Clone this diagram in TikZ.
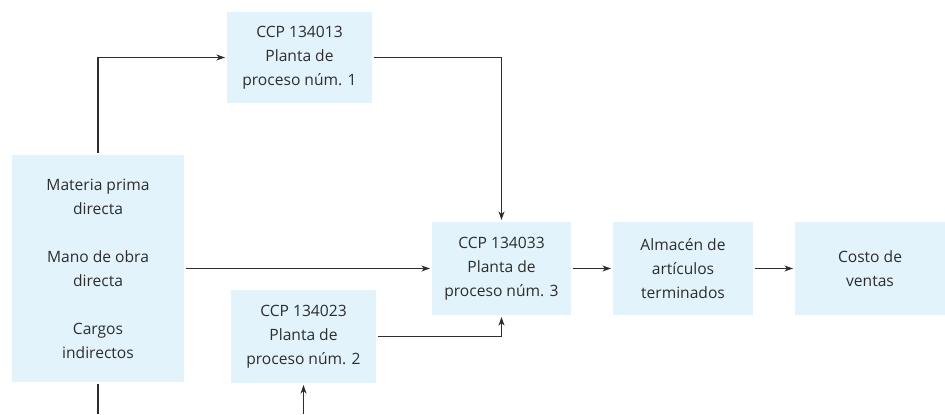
\documentclass[tikz,border=0pt]{standalone}
\usepackage{fontspec}
\setmainfont{Open Sans}
\usepackage{tikz}
\usepackage{xcolor}
\usetikzlibrary{positioning, arrows.meta}
\definecolor{boxblue}{RGB}{226,243,251}
\definecolor{inkgray}{RGB}{45,45,45}

\begin{document}
\begin{tikzpicture}[
    x=0.75pt, y=-0.75pt,
    procbox/.style={rectangle, fill=boxblue, text=inkgray, minimum width=108.75pt, minimum height=69.75pt, inner sep=0pt, outer sep=1.5pt, align=center, font=\fontsize{11.7}{18}\selectfont},
    arrow/.style={-{Stealth[length=6.5pt,width=4.5pt]}, draw=inkgray, line width=0.8pt},
    flow/.style={draw=inkgray, line width=0.8pt}
]
\useasboundingbox (0,0) rectangle (945,414);

\node[procbox, minimum width=129pt, minimum height=170.25pt] (mat) at (98,268.5) {Materia prima\\directa\\[18pt]Mano de obra\\directa\\[18pt]Cargos\\indirectos};
\node[procbox, minimum height=68.25pt] (ccpa) at (299.5,57.5) {CCP 134013\\Planta de\\proceso núm. 1};
\node[procbox] (ccpb) at (303.5,336.5) {CCP 134023\\Planta de\\proceso núm. 2};
\node[procbox, minimum width=104.25pt] (ccpc) at (501.5,268.5) {CCP 134033\\Planta de\\proceso núm. 3};
\node[procbox, minimum width=105pt, right=28.5pt of ccpc] (alm) {Almacén de\\artículos\\terminados};
\node[procbox, minimum width=112.5pt, right=28.5pt of alm] (costo) {Costo de\\ventas};

\coordinate (matout) at (98,414);
\coordinate (ccpbin) at (303.5,414);

\draw[arrow] (mat.north) |- (ccpa.west);
\draw[arrow] (ccpa.east) -| (ccpc.north);
\draw[arrow] (mat) -- (ccpc);
\draw[arrow] (ccpb.east) -| (ccpc.south);
\draw[arrow] (ccpc) -- (alm);
\draw[arrow] (alm) -- (costo);
\draw[flow] (mat.south) -- (matout);
\draw[arrow] (ccpbin) -- (ccpb.south);

\end{tikzpicture}
\end{document}
